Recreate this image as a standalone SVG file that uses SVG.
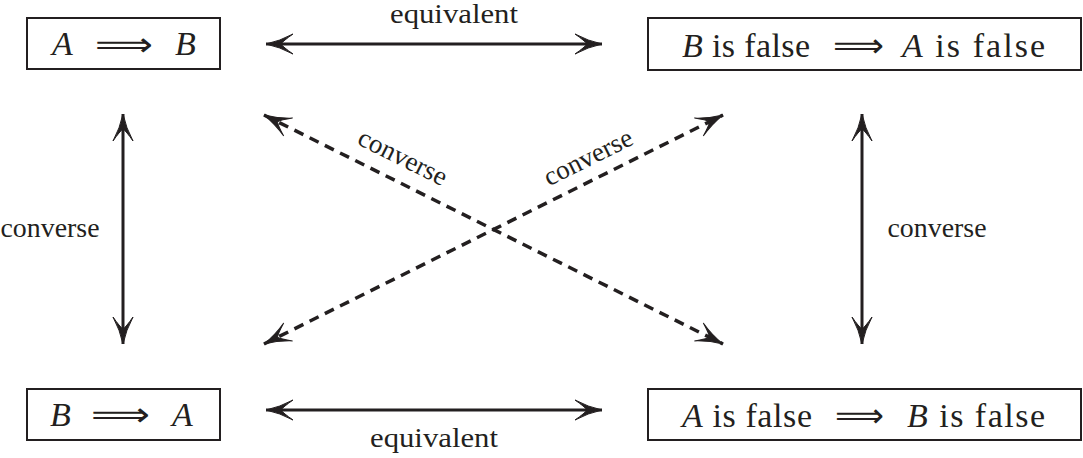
<svg xmlns="http://www.w3.org/2000/svg" width="1083" height="458" viewBox="0 0 1083 458">
<style>
.box{fill:#fff;stroke:#231f20;stroke-width:2}
.t{font-family:"Liberation Serif","DejaVu Serif",serif;font-size:34px;fill:#231f20}
.i{font-style:italic}
.arr{font-family:"DejaVu Sans","Liberation Serif",sans-serif;font-size:34px;fill:#231f20}
.lab{font-family:"Liberation Serif","DejaVu Serif",serif;font-size:27px;fill:#231f20}
.solid{fill:none;stroke:#231f20;stroke-width:3}
.dash{fill:none;stroke:#231f20;stroke-width:3.5;stroke-dasharray:10 7}
</style>
<defs>
<marker id="ah" viewBox="0 0 30 22" refX="28" refY="11" markerWidth="30" markerHeight="22" markerUnits="userSpaceOnUse" orient="auto-start-reverse">
<path d="M28,11 Q14,8 1,1 Q11,8 13,11 Q11,14 1,21 Q14,14 28,11 Z" fill="#231f20" stroke="#231f20" stroke-width="1"/>
</marker>
</defs>
<g id="connectors">
<line class="solid" x1="266" y1="44" x2="602" y2="44" marker-start="url(#ah)" marker-end="url(#ah)"/>
<line class="solid" x1="266" y1="410" x2="602" y2="410" marker-start="url(#ah)" marker-end="url(#ah)"/>
<line class="solid" x1="123" y1="114" x2="123" y2="344" marker-start="url(#ah)" marker-end="url(#ah)"/>
<line class="solid" x1="862" y1="114" x2="862" y2="344" marker-start="url(#ah)" marker-end="url(#ah)"/>
<line class="dash" x1="264" y1="115" x2="723" y2="344" marker-start="url(#ah)" marker-end="url(#ah)"/>
<line class="dash" x1="264" y1="344" x2="723" y2="115" marker-start="url(#ah)" marker-end="url(#ah)"/>
<text class="lab" x="454" y="23" text-anchor="middle" font-size="26" textLength="128" lengthAdjust="spacingAndGlyphs">equivalent</text>
<text class="lab" x="434" y="447" text-anchor="middle" font-size="26" textLength="128" lengthAdjust="spacingAndGlyphs">equivalent</text>
<text class="lab" x="50" y="237" text-anchor="middle" textLength="99" lengthAdjust="spacingAndGlyphs">converse</text>
<text class="lab" x="937" y="237" text-anchor="middle" textLength="99" lengthAdjust="spacingAndGlyphs">converse</text>
<text class="lab" text-anchor="middle" transform="translate(399,165) rotate(26.5)">converse</text>
<text class="lab" text-anchor="middle" transform="translate(592,165) rotate(-26.5)">converse</text>
</g>
<g id="n1">
<rect class="box" x="27" y="18" width="193" height="51"/>
<text class="t i" x="52" y="55">A</text>
<text class="arr" x="95" y="56" textLength="58" lengthAdjust="spacingAndGlyphs">⟹</text>
<text class="t i" x="175" y="55">B</text>
</g>
<g id="n2">
<rect class="box" x="648" y="18" width="433" height="52"/>
<text class="t" x="682" y="57" textLength="128" lengthAdjust="spacing"><tspan class="i">B</tspan> is false</text>
<text class="arr" x="833" y="57" textLength="51" lengthAdjust="spacingAndGlyphs">⟹</text>
<text class="t" x="902" y="57" textLength="143" lengthAdjust="spacing"><tspan class="i">A</tspan> is false</text>
</g>
<g id="n3">
<rect class="box" x="27" y="389" width="193" height="51"/>
<text class="t i" x="50" y="426">B</text>
<text class="arr" x="91" y="426" textLength="59" lengthAdjust="spacingAndGlyphs">⟹</text>
<text class="t i" x="172" y="426">A</text>
</g>
<g id="n4">
<rect class="box" x="648" y="389" width="433" height="51"/>
<text class="t" x="682" y="427" textLength="130" lengthAdjust="spacing"><tspan class="i">A</tspan> is false</text>
<text class="arr" x="835" y="427" textLength="49" lengthAdjust="spacingAndGlyphs">⟹</text>
<text class="t" x="907" y="427" textLength="138" lengthAdjust="spacing"><tspan class="i">B</tspan> is false</text>
</g>
</svg>
